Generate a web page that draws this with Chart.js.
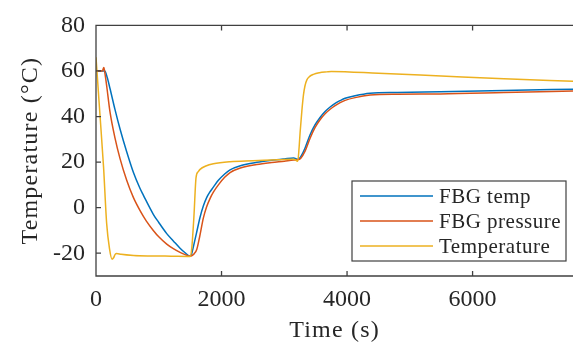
<!DOCTYPE html>
<html><head><meta charset="utf-8">
<script src="https://cdn.jsdelivr.net/npm/chart.js@4"></script>
<style>html,body{margin:0;padding:0;background:#fff;}#wrap{width:573px;height:342px;position:relative;}</style>
</head><body><div id="wrap"><canvas id="c" width="573" height="342"></canvas></div>
<script>
// FBG temp
const fbgTempTime = [0, 140, 180, 223, 303, 383, 489, 595, 700, 754, 913, 1000, 1127, 1232, 1339, 1420, 1500, 1525, 1551, 1600, 1658, 1710, 1765, 1820, 1870, 1950, 2050, 2136, 2300, 2561, 2800, 3000, 3150, 3215, 3260, 3331, 3411, 3491, 3570, 3650, 3730, 3810, 3890, 3969, 4128, 4367, 4800, 5483, 6500, 7600];
const fbgTempValues = [60, 60, 57, 52.3, 43, 34.5, 24.5, 15.5, 8.5, 5.5, -2.9, -6.5, -11.4, -14.6, -17.8, -19.8, -21.3, -20.2, -17.2, -11.3, -4.2, 0.7, 4.5, 7.1, 9, 12, 14.8, 16.6, 18.4, 19.9, 20.8, 21.4, 21.8, 21.2, 22.3, 26.2, 32, 36.4, 39.6, 42.2, 44.2, 45.8, 47, 48, 49.1, 50.2, 50.6, 50.9, 51.4, 52];
// FBG pressure
const fbgPressureTime = [0, 100, 125, 145, 170, 223, 303, 383, 489, 595, 700, 800, 913, 1000, 1127, 1232, 1339, 1420, 1500, 1530, 1565, 1605, 1650, 1711, 1760, 1820, 1870, 1950, 2050, 2136, 2300, 2561, 2800, 3000, 3150, 3215, 3260, 3331, 3411, 3491, 3570, 3650, 3730, 3810, 3890, 3969, 4128, 4367, 4800, 5483, 6500, 7600];
const fbgPressureValues = [60, 60, 61.5, 58.5, 53.5, 42, 30.5, 21.5, 12, 4.5, -1.2, -5.8, -10, -12.8, -16, -18, -19.6, -20.6, -21.3, -21, -20.2, -18.4, -13, -4.5, 0.2, 4.2, 6.8, 10, 13.3, 15.4, 17.4, 18.9, 19.8, 20.4, 20.9, 21, 21.6, 24.8, 30.5, 35.2, 38.6, 41.2, 43.2, 44.8, 46.1, 47.1, 48.3, 49.4, 49.8, 49.9, 50.5, 51.2];
// Temperature
const temperatureTime = [0, 60, 120, 170, 215, 255, 280, 305, 330, 400, 600, 900, 1200, 1500, 1525, 1560, 1594, 1630, 1658, 1750, 1870, 2136, 2500, 2900, 3150, 3215, 3235, 3252, 3280, 3305, 3330, 3358, 3400, 3464, 3560, 3677, 3750, 4500, 5500, 6500, 7600];
const temperatureValues = [66, 42, 18, -7, -18, -22.6, -22, -20.5, -20.1, -20.5, -21, -21.2, -21.3, -21.4, -18, -4, 13.2, 15.8, 16.8, 18.3, 19.3, 20.2, 20.6, 21, 21.3, 20.4, 26, 33, 42.5, 49.4, 53.5, 56, 57.5, 58.5, 59.2, 59.6, 59.8, 59, 57.8, 56.6, 55.5];

const seriesLabels = ['FBG temp', 'FBG pressure', 'Temperature'];
const seriesColors = ['#0072BD', '#D95319', '#EDB120'];
const xTicks = [0, 2000, 4000, 6000];
const yTicks = [-20, 0, 20, 40, 60, 80];
const xTitle = 'Time (s)';
const yTitle = 'Temperature (\u00B0C)';

const FONT = "'Liberation Serif', 'Times New Roman', serif";
const TXT = '#262626';
const AX = '#404040';

const seriesTimes = [fbgTempTime, fbgPressureTime, temperatureTime];
const seriesValues = [fbgTempValues, fbgPressureValues, temperatureValues];
const datasets = seriesValues.map((vals, i) => ({
  label: seriesLabels[i],
  data: seriesTimes[i].map((t, k) => ({x: t, y: vals[k]})),
  borderColor: seriesColors[i],
  backgroundColor: seriesColors[i],
  borderWidth: 1.5,
  pointRadius: 0,
  fill: false,
  cubicInterpolationMode: 'monotone',
  order: 2 - i
}));

const boxPlugin = {
  id: 'boxPlugin',
  beforeDraw(chart) {
    for (const s of Object.values(chart.scales)) {
      if (!s._lsWrapped) {
        const orig = s.drawTitle.bind(s);
        s.drawTitle = function () {
          const ctx = this.ctx;
          ctx.save();
          ctx.letterSpacing = '1.2px';
          orig();
          ctx.restore();
        };
        s._lsWrapped = true;
      }
    }
  },
  afterDatasetsDraw(chart) {
    const {ctx, chartArea: a, scales} = chart;
    ctx.save();
    ctx.strokeStyle = AX;
    ctx.lineWidth = 1.3;
    ctx.beginPath();
    ctx.moveTo(a.right + 2, a.top); ctx.lineTo(a.left, a.top);
    ctx.lineTo(a.left, a.bottom); ctx.lineTo(a.right + 2, a.bottom);
    const tl = 5;
    for (const v of xTicks) {
      const px = scales.x.getPixelForValue(v);
      ctx.moveTo(px, a.bottom); ctx.lineTo(px, a.bottom - tl);
      ctx.moveTo(px, a.top); ctx.lineTo(px, a.top + tl);
    }
    for (const v of yTicks) {
      const py = scales.y.getPixelForValue(v);
      ctx.moveTo(a.left, py); ctx.lineTo(a.left + tl, py);
    }
    ctx.stroke();

    // legend
    const w = 214, h = 80;
    const bx = a.right - 7 - w, by = a.bottom - 15 - h;
    ctx.fillStyle = '#fff';
    ctx.fillRect(bx, by, w, h);
    ctx.strokeStyle = AX;
    ctx.lineWidth = 1.2;
    ctx.strokeRect(bx, by, w, h);
    ctx.font = "21px " + FONT;
    ctx.letterSpacing = '0.5px';
    ctx.textBaseline = 'middle';
    ctx.textAlign = 'left';
    chart.data.datasets.forEach((ds, i) => {
      const ry = by + 15 + i * 25;
      ctx.strokeStyle = ds.borderColor;
      ctx.lineWidth = 1.5;
      ctx.beginPath();
      ctx.moveTo(bx + 8, ry); ctx.lineTo(bx + 81, ry);
      ctx.stroke();
      ctx.fillStyle = TXT;
      ctx.fillText(ds.label, bx + 87, ry + 1);
    });
    ctx.restore();
  }
};

new Chart(document.getElementById('c'), {
  type: 'line',
  data: {datasets},
  options: {
    responsive: false,
    devicePixelRatio: 1,
    animation: false,
    layout: {padding: {top: 23, right: 0, left: 0, bottom: 0}},
    plugins: {legend: {display: false}, tooltip: {enabled: false}},
    scales: {
      x: {
        type: 'linear', position: 'bottom', min: 0, max: 7600,
        afterBuildTicks: s => { s.ticks = xTicks.map(v => ({value: v})); },
        afterFit: s => { s.height = 66; },
        grid: {display: false, drawTicks: false},
        border: {display: false},
        ticks: {font: {family: FONT, size: 24}, color: TXT, padding: 9, maxRotation: 0, autoSkip: false, callback: v => String(v)},
        title: {display: true, text: xTitle, font: {family: FONT, size: 24, lineHeight: 1}, color: TXT, padding: {top: 0, bottom: -1}}
      },
      y: {
        type: 'linear', position: 'left', min: -30, max: 80,
        afterBuildTicks: s => { s.ticks = yTicks.map(v => ({value: v})); },
        afterFit: s => { s.width = 96; },
        grid: {display: false, drawTicks: false},
        border: {display: false},
        ticks: {font: {family: FONT, size: 24}, color: TXT, padding: 11, autoSkip: false, callback: v => String(v)},
        title: {display: true, text: yTitle, font: {family: FONT, size: 24, lineHeight: 1}, color: TXT, padding: {top: 19, bottom: 0}}
      }
    }
  },
  plugins: [boxPlugin]
});
</script></body></html>
